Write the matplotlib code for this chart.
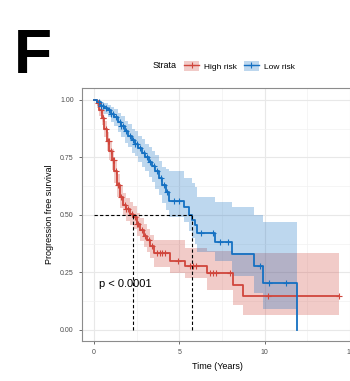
import numpy as np
import matplotlib
matplotlib.use("Agg")
import matplotlib.pyplot as plt
from matplotlib.patches import Patch
from matplotlib.lines import Line2D

plt.rcParams['font.family'] = ['Liberation Sans', 'DejaVu Sans']

# High risk curve (time, survival, CI)
t_hr = [0, 0.15, 0.3, 0.45, 0.6, 0.75, 0.9, 1.05, 1.2, 1.35, 1.5, 1.7, 1.9, 2.1, 2.3, 2.5, 2.7,
        2.9, 3.1, 3.3, 3.5, 4.45, 5.33, 6.6, 8.13, 8.75, 14.35]
s_hr = [1, .985, .955, .92, .875, .82, .78, .74, .69, .63, .58, .545, .525, .505, .49, .46, .435,
        .41, .39, .365, .335, .298, .278, .249, .197, .148, .148]
lo_hr = [1, .965, .93, .89, .84, .78, .74, .695, .64, .58, .53, .495, .475, .455, .44, .41, .385,
         .36, .34, .315, .275, .246, .225, .174, .109, .065, .065]
hi_hr = [1, 1.0, .98, .95, .91, .86, .82, .785, .74, .68, .63, .595, .575, .555, .54, .51, .485,
         .46, .44, .415, .39, .39, .355, .345, .333, .333, .333]
cens_hr = [0.25, 0.4, 0.5, 0.55, 0.7, 0.8, 0.85, 1.0, 1.1, 1.15, 1.3, 1.4, 1.45, 1.6, 1.8, 1.9,
           2.0, 2.2, 2.4, 2.5, 2.6, 2.8, 3.0, 3.2, 3.4, 3.7, 3.85, 4.0, 4.15, 4.9, 5.6, 5.8, 6.0,
           6.8, 6.95, 7.15, 7.95, 10.2, 14.35]

# Low risk curve
t_lr = [0, 0.2, 0.4, 0.6, 0.8, 1.0, 1.2, 1.4, 1.6, 1.8, 2.0, 2.2, 2.4, 2.6, 2.8, 3.0, 3.2, 3.4,
        3.6, 3.8, 4.0, 4.2, 4.4, 5.3, 5.55, 5.75, 5.9, 6.05, 7.09, 8.07, 9.37, 9.9, 11.87]
s_lr = [1, .99, .975, .965, .955, .94, .925, .905, .885, .865, .845, .825, .81, .79, .77, .75, .73,
        .715, .69, .66, .63, .60, .56, .535, .50, .478, .457, .42, .384, .33, .276, .206, 0]
lo_lr = [1, .975, .955, .94, .925, .905, .885, .86, .84, .815, .795, .77, .755, .73, .71, .69, .665,
         .645, .615, .585, .55, .52, .49, .47, .43, .40, .375, .34, .30, .235, .16, .09, .09]
hi_lr = [1, 1.0, .99, .985, .98, .97, .96, .945, .93, .91, .895, .875, .865, .845, .83, .81, .795,
         .78, .76, .735, .71, .70, .69, .66, .66, .64, .623, .58, .558, .536, .50, .471, .471]
cens_lr = [0.3, 0.4, 0.5, 0.7, 0.9, 1.0, 1.1, 1.3, 1.5, 1.6, 1.7, 1.9, 2.1, 2.3, 2.4, 2.5, 2.7,
           2.9, 3.1, 3.3, 3.5, 3.7, 3.9, 4.1, 4.3, 4.7, 5.0, 6.25, 6.99, 7.38, 7.87, 9.72, 10.27, 11.25]

med_hr = 2.3
med_lr = 5.74
groups = ['High risk', 'Low risk']
colors = ['#D0463C', '#1470C2']

fig = plt.figure(figsize=(3.5, 3.81), dpi=100)
ax = fig.add_axes([82/350, 1-341/381, 270/350, 253/381])

curves = [(t_hr, s_hr, lo_hr, hi_hr, cens_hr), (t_lr, s_lr, lo_lr, hi_lr, cens_lr)]
for (t, s, lo, hi, cens), col in zip(curves, colors):
    t = np.array(t); s = np.array(s)
    ax.fill_between(t, lo, hi, step='post', color=col, alpha=0.28, lw=0)
    ax.step(t, s, where='post', color=col, lw=1.3, zorder=3)
    idx = np.searchsorted(t, cens, side='right') - 1
    ax.plot(cens, s[idx], '+', color=col, ms=4.5, mew=0.8, zorder=4)

# median lines
ax.plot([0, med_lr], [0.5, 0.5], ls=(0, (3, 2)), color='black', lw=0.8, zorder=5)
for m in [med_hr, med_lr]:
    ax.plot([m, m], [0, 0.5], ls=(0, (3, 2)), color='black', lw=0.8, zorder=5)

ax.text(0.29, 0.2, 'p < 0.0001', fontsize=8, va='center', ha='left')

ax.set_xlim(-0.703, 15.11)
ax.set_ylim(-0.048, 1.052)
ax.set_xticks([0, 5, 10, 15])
ax.set_yticks([0, 0.25, 0.5, 0.75, 1.0])
ax.set_yticklabels(['0.00', '0.25', '0.50', '0.75', '1.00'])
ax.set_xticks([2.5, 7.5, 12.5], minor=True)
ax.set_yticks([0.125, 0.375, 0.625, 0.875], minor=True)
ax.grid(which='major', color='#E8E8E8', lw=0.8)
ax.grid(which='minor', color='#F1F1F1', lw=0.5)
ax.set_axisbelow(True)
ax.tick_params(which='major', labelsize=5, colors='#555555', length=2.5, width=0.6, labelcolor='#4D4D4D')
ax.tick_params(which='minor', length=0)
for sp in ax.spines.values():
    sp.set_color('#8C8C8C')
    sp.set_linewidth(0.8)
ax.set_xlabel('Time (Years)', fontsize=6.5, labelpad=4)
ax.set_ylabel('Progression free survival', fontsize=6.5, labelpad=4)

fig.text(14/350, 1-73/381, 'F', fontsize=45, fontweight='bold', ha='left', va='baseline')

fig.text(153/350, 1-66/381, 'Strata', fontsize=6.5, va='center', ha='left')
handles = []
for col in colors:
    handles.append((Patch(facecolor=col, alpha=0.28, edgecolor='none'),
                    Line2D([], [], color=col, lw=1.0, marker='+', ms=5, mew=0.8)))
fig.legend(handles, groups, loc='center left', bbox_to_anchor=(184/350, 1-66/381), ncol=2,
           frameon=False, fontsize=6, borderpad=0, borderaxespad=0, handlelength=1.8,
           handleheight=1.6, handletextpad=0.6, columnspacing=0.8)

fig.savefig('out.png', dpi=100)
